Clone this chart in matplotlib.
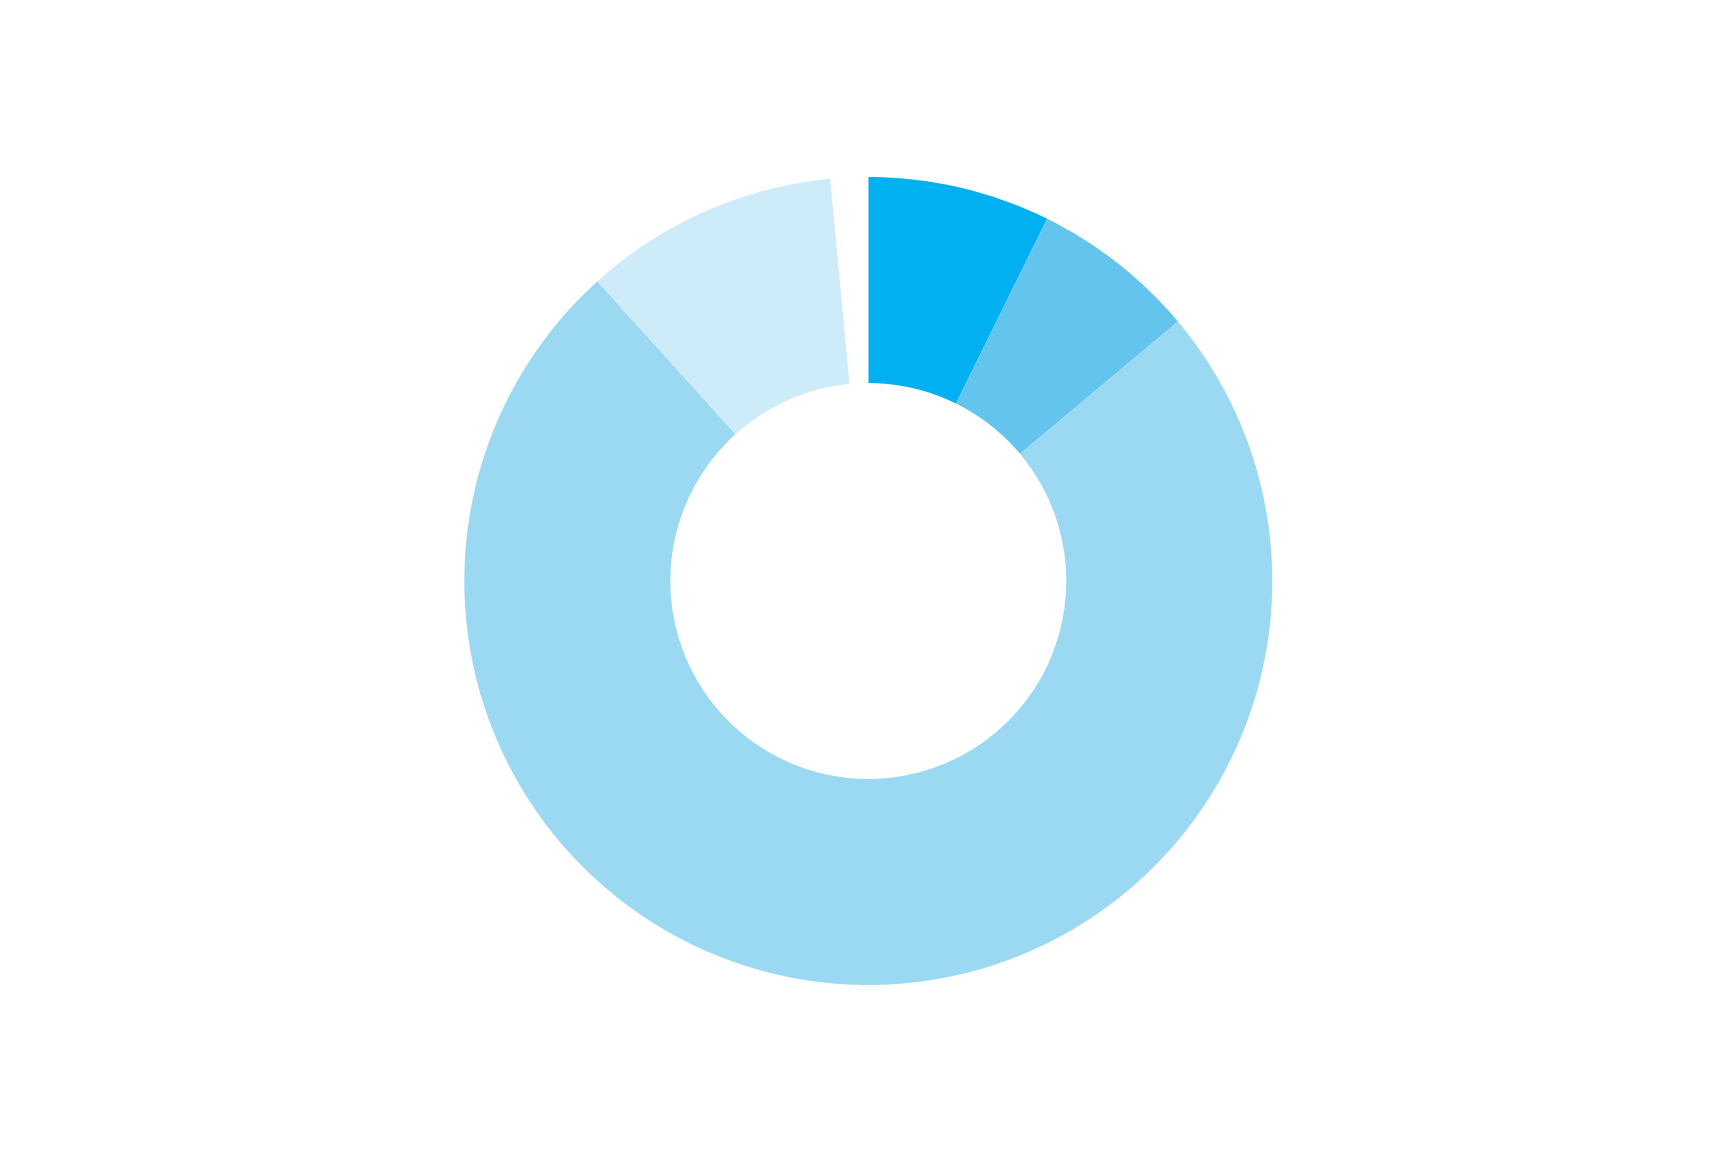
import matplotlib
matplotlib.use("Agg")
import matplotlib.pyplot as plt

# Slice shares (percent), clockwise from 12 o'clock; last one is the blank gap
labels = ['A', 'B', 'C', 'D', 'gap']
values = [7.3, 6.6, 74.4, 10.2, 1.5]
colors = ['#00B0F0', '#63C5EE', '#9BD9F3', '#CDEBF8', '#FFFFFF']

W, H = 1713, 1151
fig = plt.figure(figsize=(W / 100, H / 100), dpi=100)
fig.patch.set_facecolor('white')

# Donut centre ~ (868, 581) px, outer radius ~404 px
cx, cy, r = 868.3, 581.0, 404.0
ax = fig.add_axes([(cx - r) / W, (H - cy - r) / H, 2 * r / W, 2 * r / H])

ax.pie(values, colors=colors, startangle=90, counterclock=False,
       radius=1.0, wedgeprops=dict(width=0.51, linewidth=0))
ax.set_xlim(-1, 1)
ax.set_ylim(-1, 1)
ax.set_aspect('equal')
ax.axis('off')

fig.savefig('out.png', dpi=100, facecolor='white')
